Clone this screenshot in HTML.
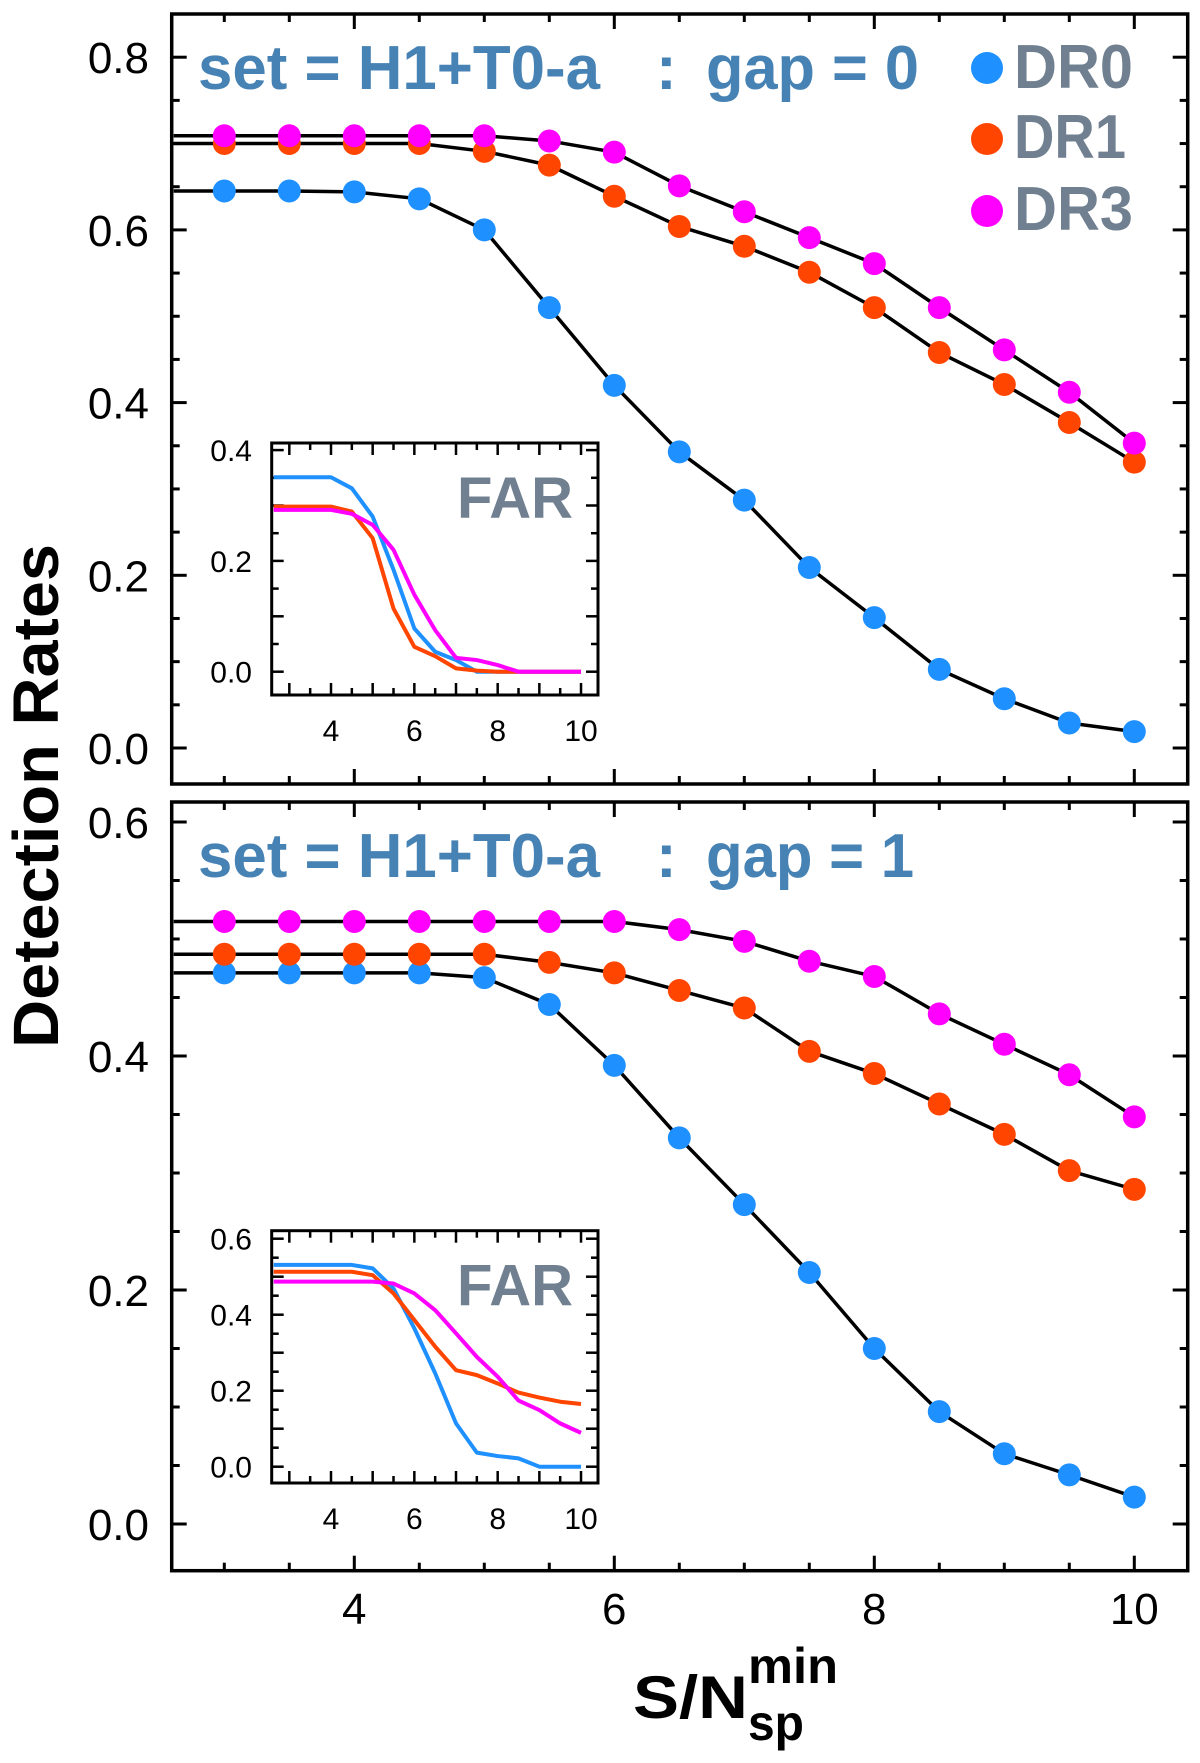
<!DOCTYPE html>
<html><head><meta charset="utf-8"><style>
html,body{margin:0;padding:0;background:#fff}
svg{display:block;font-family:"Liberation Sans",Arial,sans-serif}
</style></head><body>
<svg id="chart" width="1200" height="1763" viewBox="0 0 1200 1763" xmlns="http://www.w3.org/2000/svg">
<g id="root"></g>
<g font-family="Liberation Sans, Arial, sans-serif" font-weight="bold">
  <text x="198" y="89" font-size="62" fill="#4682b4" textLength="402" lengthAdjust="spacingAndGlyphs">set = H1+T0-a</text>
  <text x="656" y="89" font-size="62" fill="#4682b4">:</text>
  <text x="706" y="89" font-size="62" fill="#4682b4" textLength="213" lengthAdjust="spacingAndGlyphs">gap = 0</text>
  <text x="198" y="877" font-size="62" fill="#4682b4" textLength="402" lengthAdjust="spacingAndGlyphs">set = H1+T0-a</text>
  <text x="656" y="877" font-size="62" fill="#4682b4">:</text>
  <text x="706" y="877" font-size="62" fill="#4682b4" textLength="208" lengthAdjust="spacingAndGlyphs">gap = 1</text>
  <g>
    <circle cx="987" cy="68" r="16" fill="#1e90ff"/>
    <text x="1014" y="88" font-size="62" fill="#708090" textLength="119" lengthAdjust="spacingAndGlyphs">DR0</text>
    <circle cx="987" cy="139" r="16" fill="#ff4500"/>
    <text x="1014" y="158" font-size="62" fill="#708090" textLength="112" lengthAdjust="spacingAndGlyphs">DR1</text>
    <circle cx="987" cy="211" r="16" fill="#ff00ff"/>
    <text x="1014" y="230" font-size="62" fill="#708090" textLength="119" lengthAdjust="spacingAndGlyphs">DR3</text>
  </g>
  <text transform="translate(58,796) rotate(-90)" text-anchor="middle" font-size="64" fill="#000" textLength="504" lengthAdjust="spacingAndGlyphs">Detection Rates</text>
  <g>
    <text x="633" y="1718" font-size="60" fill="#000" textLength="115" lengthAdjust="spacingAndGlyphs">S/N</text>
    <text x="748" y="1683" font-size="50" fill="#000" textLength="90" lengthAdjust="spacingAndGlyphs">min</text>
    <text x="748" y="1740" font-size="50" fill="#000" textLength="56" lengthAdjust="spacingAndGlyphs">sp</text>
  </g>
</g>
</svg>
<script>
const xs = [3,3.5,4,4.5,5,5.5,6,6.5,7,7.5,8,8.5,9,9.5,10];
const top_dr0 = [0.645,0.645,0.644,0.636,0.600,0.510,0.420,0.343,0.287,0.209,0.151,0.091,0.057,0.029,0.019];
const top_dr1 = [0.700,0.700,0.700,0.700,0.691,0.675,0.639,0.604,0.581,0.551,0.510,0.458,0.421,0.377,0.331];
const top_dr3 = [0.709,0.709,0.709,0.709,0.709,0.703,0.690,0.651,0.621,0.591,0.561,0.510,0.461,0.412,0.353];
const bot_dr0 = [0.471,0.471,0.471,0.471,0.467,0.444,0.392,0.330,0.273,0.215,0.150,0.096,0.060,0.042,0.023];
const bot_dr1 = [0.487,0.487,0.487,0.487,0.487,0.480,0.471,0.456,0.441,0.404,0.385,0.359,0.333,0.302,0.286];
const bot_dr3 = [0.515,0.515,0.515,0.515,0.515,0.515,0.515,0.508,0.498,0.481,0.468,0.436,0.410,0.384,0.348];
const top_far0 = [0.351,0.351,0.351,0.331,0.280,0.184,0.078,0.036,0.021,0,0,0,0,0,0];
const top_far1 = [0.298,0.298,0.298,0.289,0.241,0.114,0.045,0.028,0.006,0.002,0,0,0,0,0];
const top_far3 = [0.292,0.292,0.292,0.285,0.265,0.220,0.139,0.075,0.025,0.021,0.012,0,0,0,0];
const bot_far0 = [0.531,0.531,0.531,0.531,0.522,0.469,0.364,0.246,0.114,0.037,0.028,0.022,0,0,0];
const bot_far1 = [0.513,0.513,0.513,0.513,0.504,0.456,0.386,0.316,0.254,0.241,0.219,0.195,0.182,0.171,0.165];
const bot_far3 = [0.487,0.487,0.487,0.487,0.487,0.482,0.456,0.412,0.351,0.289,0.237,0.174,0.149,0.114,0.089];
const mainXTicks = [4,6,8,10];
const topYTicks = ["0.0","0.2","0.4","0.6","0.8"];
const botYTicks = ["0.0","0.2","0.4","0.6"];
const insetXTicks = [4,6,8,10];
const topInsetYTicks = ["0.0","0.2","0.4"];
const botInsetYTicks = ["0.0","0.2","0.4","0.6"];

const NS="http://www.w3.org/2000/svg";
const root=document.getElementById('root');
const C0="#1e90ff",C1="#ff4500",C3="#ff00ff";
function mk(tag,attrs,parent,txt){const e=document.createElementNS(NS,tag);for(const k in attrs)e.setAttribute(k,attrs[k]);if(txt!==undefined)e.textContent=txt;(parent||root).appendChild(e);return e;}

const mx=v=>354.3+(v-4)*130;
function panel(name,L,T,R,B,y0px,pxPerUnit,ymax,ticks,series){
  const g=mk('g',{});
  
  
  const my=v=>y0px-v*pxPerUnit;
  for(let k=0;k<=ymax/0.05+0.01;k++){const v=k*0.05;const y=my(v);if(y<T||y>B)continue;const major=(k%4===0);const len=major?15:8;
    mk('line',{x1:L,y1:y,x2:L+len,y2:y,stroke:'#000','stroke-width':3},g);
    mk('line',{x1:R,y1:y,x2:R-len,y2:y,stroke:'#000','stroke-width':3},g);}
  for(let v=3;v<=10.01;v+=0.5){const x=mx(v);const major=(Math.abs(v/2-Math.round(v/2))<0.01);const len=major?15:8;
    mk('line',{x1:x,y1:B,x2:x,y2:B-len,stroke:'#000','stroke-width':3},g);
    mk('line',{x1:x,y1:T,x2:x,y2:T+len,stroke:'#000','stroke-width':3},g);}
  ticks.forEach(t=>{const tl=mk('text',{x:149,y:my(parseFloat(t))+16,'text-anchor':'end','font-size':44,fill:'#000'},g,t);
    
    });
  series.forEach(s=>{
    let d='M'+(L+2)+','+my(s.v[0]);
    xs.forEach((x,i)=>{d+=' L'+mx(x)+','+my(s.v[i]);});
    const p=mk('path',{d:d,fill:'none',stroke:'#000','stroke-width':3.5,'stroke-linejoin':'round'},g);
    
    
  });
  series.forEach(s=>{
    xs.forEach((x,i)=>{const c=mk('circle',{cx:mx(x),cy:my(s.v[i]),r:11.5,fill:s.c},g);
      
      });
  });
  mk('rect',{x:L,y:T,width:R-L,height:B-T,fill:'none',stroke:'#000','stroke-width':3.5},g);
  return g;
}
function inset(name,L,T,R,B,y0px,pxPerUnit,ymax,ticks,series,labBase){
  const g=mk('g',{});
  
  
  const ix=v=>331+(v-4)*41.67;
  const iy=v=>y0px-v*pxPerUnit;
  mk('rect',{x:L,y:T,width:R-L,height:B-T,fill:'#fff'},g);
  for(let k=0;k<=ymax/0.05+0.01;k++){const y=iy(k*0.05);if(y<T||y>B)continue;const len=(k%2===0)?12:7;
    mk('line',{x1:L,y1:y,x2:L+len,y2:y,stroke:'#000','stroke-width':2.5},g);
    mk('line',{x1:R,y1:y,x2:R-len,y2:y,stroke:'#000','stroke-width':2.5},g);}
  for(let v=3;v<=10.01;v+=0.5){const x=ix(v);const len=(Math.abs(v-Math.round(v))<0.01)?12:7;
    mk('line',{x1:x,y1:B,x2:x,y2:B-len,stroke:'#000','stroke-width':2.5},g);
    mk('line',{x1:x,y1:T,x2:x,y2:T+len,stroke:'#000','stroke-width':2.5},g);}
  ticks.forEach(t=>{const tl=mk('text',{x:252,y:iy(parseFloat(t))+11,'text-anchor':'end','font-size':30,fill:'#000'},g,t);
    
    });
  insetXTicks.forEach(t=>{const tl=mk('text',{x:ix(t),y:labBase,'text-anchor':'middle','font-size':30,fill:'#000'},g,String(t));
    
    });
  series.forEach(s=>{
    let d='M'+(L+2)+','+iy(s.v[0]);
    xs.forEach((x,i)=>{d+=' L'+ix(x)+','+iy(s.v[i]);});
    const p=mk('path',{d:d,fill:'none',stroke:s.c,'stroke-width':4,'stroke-linejoin':'round'},g);
    
    
  });
  const f=mk('text',{x:573,y:T+75,'text-anchor':'end','font-size':58,'font-weight':'bold',fill:'#708090'},g,'FAR');
  
  
  mk('rect',{x:L,y:T,width:R-L,height:B-T,fill:'none',stroke:'#000','stroke-width':3},g);
}

panel('top-panel',171.7,14,1187.7,784,748,863.5,0.8,topYTicks,[{n:'dr0',v:top_dr0,c:C0},{n:'dr1',v:top_dr1,c:C1},{n:'dr3',v:top_dr3,c:C3}]);
panel('bottom-panel',171.7,802,1187.7,1570.7,1524,1170,0.6,botYTicks,[{n:'dr0',v:bot_dr0,c:C0},{n:'dr1',v:bot_dr1,c:C1},{n:'dr3',v:bot_dr3,c:C3}]);
inset('top-far-inset',271.7,443,598,695,671.7,554,0.4,topInsetYTicks,[{n:'dr0',v:top_far0,c:C0},{n:'dr1',v:top_far1,c:C1},{n:'dr3',v:top_far3,c:C3}],741);
inset('bottom-far-inset',271.7,1230.7,598,1483,1466.7,380,0.6,botInsetYTicks,[{n:'dr0',v:bot_far0,c:C0},{n:'dr1',v:bot_far1,c:C1},{n:'dr3',v:bot_far3,c:C3}],1529);

mainXTicks.forEach(t=>{const tl=mk('text',{x:mx(t),y:1624,'text-anchor':'middle','font-size':44,fill:'#000'},root,String(t));
  
  });
</script>
</body></html>
